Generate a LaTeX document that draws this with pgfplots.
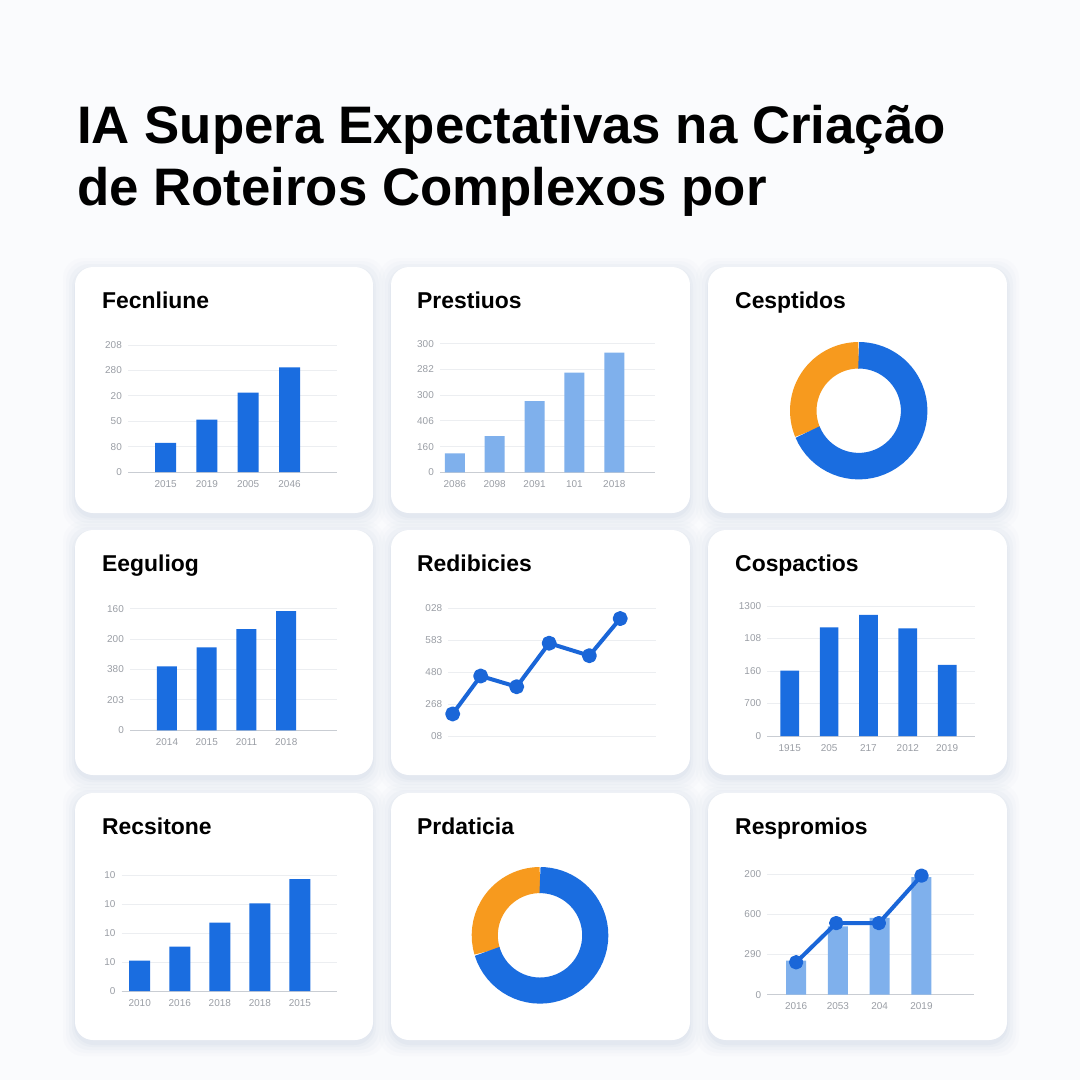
\documentclass[border=0pt]{standalone}
\usepackage{pgfplots}
\pgfplotsset{compat=1.18}
\usepackage{fontspec}
\setmainfont{Liberation Sans}
\definecolor{bgc}{HTML}{FAFBFD}
\definecolor{shadowc}{HTML}{B8C6DC}
\definecolor{barblue}{HTML}{1A6DE0}
\definecolor{lightblue}{HTML}{7FB0EC}
\definecolor{orangec}{HTML}{F79A1E}
\definecolor{linec}{HTML}{1A66D8}
\definecolor{gridc}{HTML}{ECEEF1}
\definecolor{basec}{HTML}{C9CDD3}
\definecolor{labc}{HTML}{9A9EA5}

\pgfplotsset{
  panel/.style={
    scale only axis, anchor=south west, clip=false,
    axis x line*=bottom, axis y line*=left,
    x axis line style={draw=basec, line width=0.9bp},
    y axis line style={draw=none},
    ymajorgrids, grid style={draw=gridc, line width=0.9bp},
    tick style={draw=none},
    ymin=0, enlargelimits=false,
    ticklabel style={font=\fontsize{10}{12}\selectfont, text=labc},
    yticklabel style={anchor=east, inner sep=0pt, xshift=-6bp},
    xticklabel style={anchor=north, inner sep=0pt, yshift=-8bp},
  },
  donut/.style={
    scale only axis, anchor=south west, hide axis, clip=false,
    xmin=-1, xmax=1, ymin=-1, ymax=1,
  },
}

\newcommand{\card}[4]{%
  \foreach \s/\o in {12/0.04,9/0.05,6/0.07,3/0.09,1/0.12}{%
    \fill[shadowc, opacity=\o, rounded corners=20bp] (#1-\s,#2-\s+3) rectangle (#3+\s,#4+\s+4);
  }%
  \fill[white, rounded corners=18bp] (#1,#2) rectangle (#3,#4);
}
\newcommand{\cardtitle}[3]{%
  \node[anchor=base west, inner sep=0pt, font=\fontsize{23}{26}\selectfont\bfseries] at (#1,#2) {#3};
}
% donut ring: #1 share of orange (percent), #2 mid radius (data units), #3 ring width
\newcommand{\donutring}[3]{%
  \pgfmathsetmacro{\ea}{90+3.6*#1}%
  \pgfmathsetmacro{\bx}{#2*cos(\ea)}%
  \pgfmathsetmacro{\by}{#2*sin(\ea)}%
  \draw[orangec, line width=#3] (axis cs:0,#2) arc[start angle=90, end angle=\ea, radius=#2];
  \draw[barblue, line width=#3] (axis cs:\bx,\by) arc[start angle=\ea, end angle=450, radius=#2];
}

\begin{document}
\begin{tikzpicture}[x=1bp,y=-1bp]
\fill[bgc] (0,0) rectangle (1080,1080);
\useasboundingbox (0,0) rectangle (1080,1080);

\node[anchor=base west, inner sep=0pt, font=\fontsize{53}{60}\selectfont\bfseries] at (77,143) {IA Supera Expectativas na Criação};
\node[anchor=base west, inner sep=0pt, font=\fontsize{53}{60}\selectfont\bfseries] at (77,205) {de Roteiros Complexos por};

\card{75}{267}{373}{513}
\card{391}{267}{690}{513}
\card{708}{267}{1007}{513}
\card{75}{530}{373}{775}
\card{391}{530}{690}{775}
\card{708}{530}{1007}{775}
\card{75}{793}{373}{1040}
\card{391}{793}{690}{1040}
\card{708}{793}{1007}{1040}

\cardtitle{102}{308}{Fecnliune}
\cardtitle{417}{308}{Prestiuos}
\cardtitle{735}{308}{Cesptidos}
\cardtitle{102}{571}{Eeguliog}
\cardtitle{417}{571}{Redibicies}
\cardtitle{735}{571}{Cospactios}
\cardtitle{102}{834}{Recsitone}
\cardtitle{417}{834}{Prdaticia}
\cardtitle{735}{834}{Respromios}

% Panel 1
\begin{axis}[panel, at={(128bp,-472bp)}, width=209bp, height=127bp,
  xmin=-0.91, xmax=4.15, ymax=5, ytick={0,1,2,3,4,5},
  yticklabels={0,80,50,20,280,208},
  xtick={0,1,2,3}, xticklabels={2015,2019,2005,2046}]
\addplot[ybar, bar width=21bp, fill=barblue, draw=none] coordinates {(0,1.15) (1,2.06) (2,3.13) (3,4.12)};
\end{axis}

% Panel 2
\begin{axis}[panel, at={(440bp,-472.3bp)}, width=215bp, height=128.6bp,
  xmin=-0.37, xmax=5.02, ymax=5, ytick={0,1,2,3,4,5},
  yticklabels={0,160,406,300,282,300},
  xtick={0,1,2,3,4}, xticklabels={2086,2098,2091,101,2018}]
\addplot[ybar, bar width=20bp, fill=lightblue, draw=none] coordinates {(0,0.74) (1,1.41) (2,2.77) (3,3.88) (4,4.65)};
\end{axis}

% Panel 3 donut (centre 858.7,410.7; R=68.7)
\begin{axis}[donut, at={(790bp,-479.4bp)}, width=137.4bp, height=137.4bp]
\addplot[draw=none, forget plot] coordinates {(-1,-1) (1,1)};
\donutring{31.3}{0.807}{26.5bp}
\end{axis}

% Panel 4
\begin{axis}[panel, at={(130bp,-730.3bp)}, width=206.7bp, height=121.6bp,
  xmin=-0.93, xmax=4.27, ymax=4, ytick={0,1,2,3,4},
  yticklabels={0,203,380,200,160},
  xtick={0,1,2,3}, xticklabels={2014,2015,2011,2018}]
\addplot[ybar, bar width=20bp, fill=barblue, draw=none] coordinates {(0,2.105) (1,2.73) (2,3.33) (3,3.92)};
\end{axis}

% Panel 5 line
\begin{axis}[panel, at={(448.3bp,-736bp)}, width=207.4bp, height=128bp,
  x axis line style={draw=none},
  xmin=-0.13, xmax=6.06, ymax=4, ytick={0,1,2,3,4},
  yticklabels={08,268,480,583,028}, xtick=\empty]
\addplot[linec, line width=4bp, line join=round, mark=*, mark size=5.5bp, mark options={fill=linec, draw=none}] coordinates {(0,0.69) (0.836,1.875) (1.91,1.54) (2.88,2.9) (4.08,2.51) (5.0,3.67)};
\end{axis}

% Panel 6
\begin{axis}[panel, at={(767.3bp,-736bp)}, width=207.4bp, height=130bp,
  xmin=-0.57, xmax=4.70, ymax=4, ytick={0,1,2,3,4},
  yticklabels={0,700,160,108,1300},
  xtick={0,1,2,3,4}, xticklabels={1915,205,217,2012,2019}]
\addplot[ybar, bar width=18.7bp, fill=barblue, draw=none] coordinates {(0,2.01) (1,3.345) (2,3.73) (3,3.31) (4,2.19)};
\end{axis}

% Panel 7
\begin{axis}[panel, at={(121.7bp,-991bp)}, width=215bp, height=116bp,
  xmin=-0.45, xmax=4.92, ymax=4, ytick={0,1,2,3,4},
  yticklabels={0,10,10,10,10},
  xtick={0,1,2,3,4}, xticklabels={2010,2016,2018,2018,2015}]
\addplot[ybar, bar width=21bp, fill=barblue, draw=none] coordinates {(0,1.045) (1,1.53) (2,2.355) (3,3.02) (4,3.86)};
\end{axis}

% Panel 8 donut (centre 540,935.3; R=68.3)
\begin{axis}[donut, at={(471.7bp,-1003.6bp)}, width=136.6bp, height=136.6bp]
\addplot[draw=none, forget plot] coordinates {(-1,-1) (1,1)};
\donutring{29.7}{0.809}{26.1bp}
\end{axis}

% Panel 9
\begin{axis}[panel, at={(767.3bp,-994.7bp)}, width=206.4bp, height=120.7bp,
  xmin=-0.69, xmax=4.25, ymax=3, ytick={0,1,2,3},
  yticklabels={0,290,600,200},
  xtick={0,1,2,3}, xticklabels={2016,2053,204,2019}]
\addplot[ybar, bar width=20bp, fill=lightblue, draw=none] coordinates {(0,0.846) (1,1.70) (2,1.91) (3,2.92)};
\addplot[linec, line width=4bp, line join=round, mark=*, mark size=5.2bp, mark options={fill=linec, draw=none}] coordinates {(0,0.806) (0.96,1.78) (1.98,1.78) (3,2.96)};
\end{axis}
\end{tikzpicture}
\end{document}
